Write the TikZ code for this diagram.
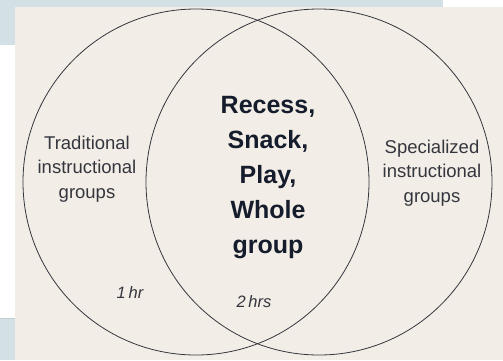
\documentclass[tikz,border=0pt]{standalone}
\usepackage{fontspec}
\setmainfont{Liberation Sans}
\definecolor{panel}{HTML}{F3EDE7}
\definecolor{band}{HTML}{D3E1E6}
\definecolor{ink}{HTML}{34363E}
\definecolor{deep}{HTML}{151C2C}

\tikzset{
  ring/.style={circle,draw=ink,line width=0.8pt,minimum size=346pt,inner sep=0pt},
  side/.style={align=center,text=ink,font=\fontsize{18.5}{24.5}\selectfont},
  core/.style={align=center,text=deep,font=\bfseries\fontsize{25}{35}\selectfont},
  hours/.style={text=ink,font=\itshape\fontsize{16.5}{18}\selectfont}
}

\begin{document}
\begin{tikzpicture}[x=1pt,y=-1pt]
   \useasboundingbox (0,0) rectangle (503,360);
   \fill [white] (0,0) rectangle (503,360);
   \fill [band] (0,0) rectangle (443,7);
   \fill [band] (0,0) rectangle (15,45);
   \fill [band] (0,319) rectangle (15,360);
   \draw [band!80!gray,line width=0.5pt] (0,318.5)--(15,318.5);
   \fill [panel] (15,7) rectangle (503,360);
   \node [ring] (left) at (196,182) {};
   \node [ring] (right) at (319,182) {};
   \node [side] (trad) at (87,169) {Traditional\\instructional\\groups};
   \node [side] (spec) at (432,173) {Specialized\\instructional\\groups};
   \node [core] (shared) at (268,178) {Recess,\\Snack,\\Play,\\Whole\\group};
   \node [hours] (one) at (130,293) {1\,hr};
   \node [hours] (two) at (254,302) {2\,hrs};
\end{tikzpicture}
\end{document}
